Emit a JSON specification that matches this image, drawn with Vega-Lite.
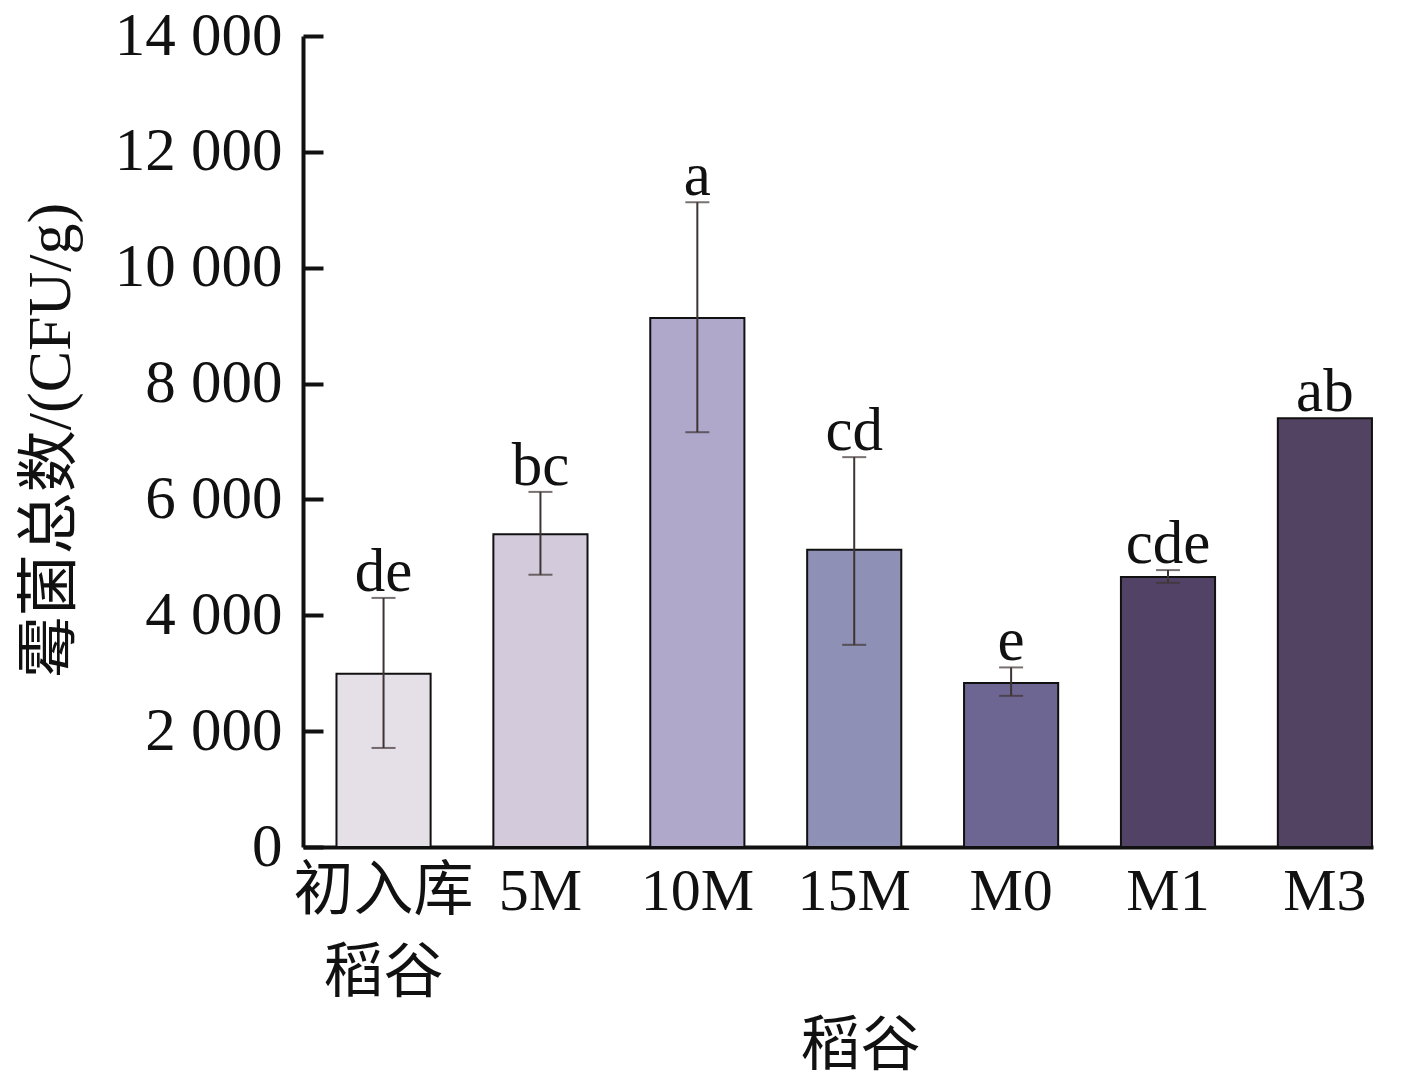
{
  "$schema": "https://vega.github.io/schema/vega-lite/v6.json",
  "autosize": "none",
  "padding": {"left": 303, "top": 36, "right": 33, "bottom": 241},
  "width": 1070,
  "height": 811,
  "config": {
    "view": {"stroke": null},
    "font": "Liberation Serif, Noto Sans CJK SC",
    "axis": {"labelFont": "Liberation Serif, Noto Sans CJK SC", "titleFont": "Liberation Serif, Noto Sans CJK SC"}
  },
  "data": {
    "values": [
      {"group": "初入库稻谷", "mean": 2990, "lo": 1710, "hi": 4300, "sig": "de"},
      {"group": "5M", "mean": 5400, "lo": 4700, "hi": 6130, "sig": "bc"},
      {"group": "10M", "mean": 9130, "lo": 7160, "hi": 11130, "sig": "a"},
      {"group": "15M", "mean": 5130, "lo": 3490, "hi": 6730, "sig": "cd"},
      {"group": "M0", "mean": 2830, "lo": 2610, "hi": 3100, "sig": "e"},
      {"group": "M1", "mean": 4660, "lo": 4560, "hi": 4780, "sig": "cde"},
      {"group": "M3", "mean": 7400, "lo": null, "hi": null, "sig": "ab"}
    ]
  },
  "encoding": {
    "x": {
      "field": "group",
      "type": "nominal",
      "sort": null,
      "scale": {"paddingInner": 0.4, "paddingOuter": 0.11, "align": 0.97},
      "axis": {
        "title": "稻谷",
        "titleFontSize": 60,
        "titleFontWeight": "normal",
        "titleColor": "#111",
        "titleX": 557,
        "titleY": 230,
        "titleBaseline": "bottom",
        "labelAngle": 0,
        "labelFontSize": 60,
        "labelColor": "#111",
        "labelPadding": 15,
        "labelLineHeight": 82,
        "labelExpr": "datum.label == '初入库稻谷' ? ['初入库', '稻谷'] : datum.label",
        "ticks": false,
        "domainColor": "#111",
        "domainWidth": 4
      }
    }
  },
  "layer": [
    {
      "mark": {"type": "bar", "stroke": "#111", "strokeWidth": 2},
      "encoding": {
        "y": {
          "field": "mean",
          "type": "quantitative",
          "scale": {"domain": [0, 14000], "nice": false},
          "axis": {
            "title": "霉菌总数/(CFU/g)",
            "titleFontSize": 62,
            "titleFontWeight": "normal",
            "titleColor": "#111",
            "titleX": -253,
            "titleY": 404,
            "titleBaseline": "middle",
            "titleAlign": "center",
            "values": [0, 2000, 4000, 6000, 8000, 10000, 12000, 14000],
            "labelExpr": "replace(format(datum.value, ','), ',', ' ')",
            "labelFontSize": 61,
            "labelColor": "#111",
            "labelPadding": 41,
            "labelBaseline": "middle",
            "grid": false,
            "tickSize": -20,
            "tickWidth": 4,
            "tickColor": "#111",
            "domainColor": "#111",
            "domainWidth": 4
          }
        },
        "color": {
          "field": "group",
          "type": "nominal",
          "sort": null,
          "legend": null,
          "scale": {
            "domain": ["初入库稻谷", "5M", "10M", "15M", "M0", "M1", "M3"],
            "range": ["#e5dfe7", "#d3cbdc", "#b0a8cb", "#8e90b5", "#6e6692", "#514266", "#534362"]
          }
        }
      }
    },
    {
      "transform": [{"filter": "datum.hi != null"}],
      "mark": {"type": "rule", "color": "#3e3434", "strokeWidth": 2},
      "encoding": {
        "y": {"field": "lo", "type": "quantitative"},
        "y2": {"field": "hi"}
      }
    },
    {
      "transform": [{"filter": "datum.hi != null"}],
      "mark": {"type": "tick", "color": "#3e3434", "size": 24, "thickness": 2},
      "encoding": {"y": {"field": "hi", "type": "quantitative"}}
    },
    {
      "transform": [{"filter": "datum.hi != null"}],
      "mark": {"type": "tick", "color": "#3e3434", "size": 24, "thickness": 2},
      "encoding": {"y": {"field": "lo", "type": "quantitative"}}
    },
    {
      "mark": {"type": "text", "fontSize": 61, "color": "#111", "baseline": "alphabetic", "dy": -7},
      "encoding": {
        "y": {"field": "top", "type": "quantitative"},
        "text": {"field": "sig"}
      },
      "transform": [{"calculate": "datum.hi != null ? datum.hi : datum.mean", "as": "top"}]
    }
  ]
}
